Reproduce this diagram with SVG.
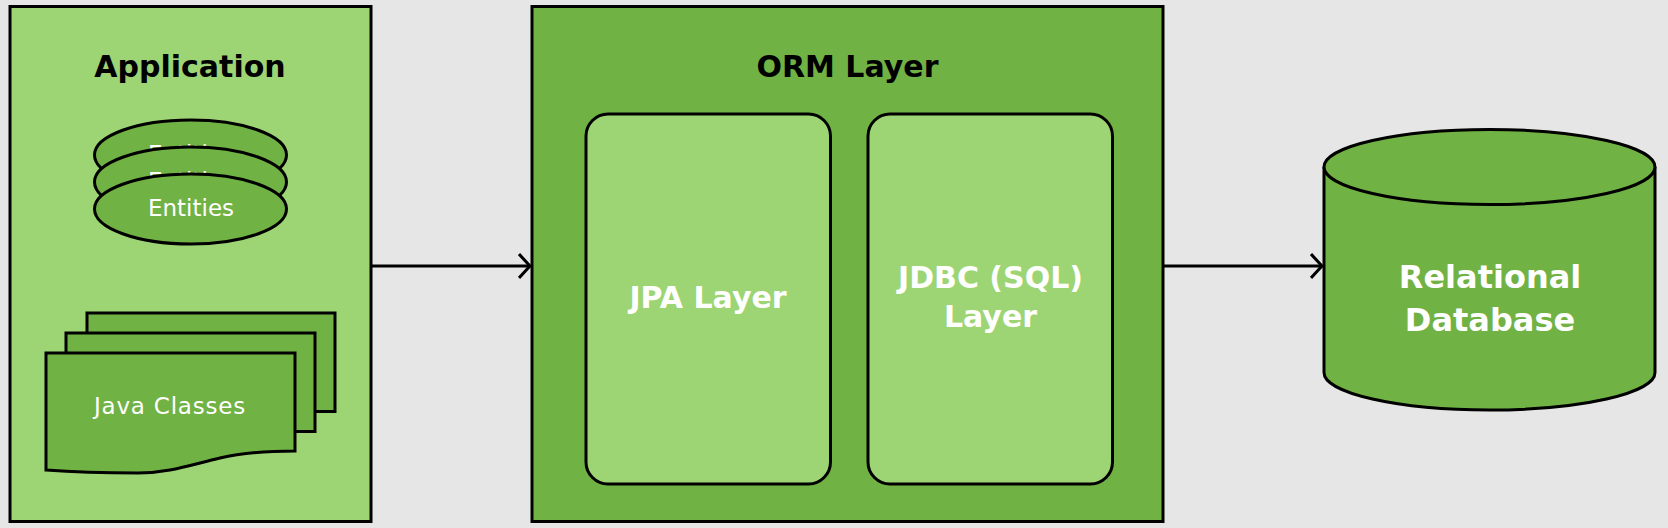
<svg xmlns="http://www.w3.org/2000/svg" width="1668" height="528" viewBox="0 0 1668 528">
<style>
.light{fill:#9dd574;stroke:#000;stroke-width:3}
.dark{fill:#71b244;stroke:#000;stroke-width:3}
.title{font-family:"DejaVu Sans",sans-serif;font-weight:bold;font-size:30px;fill:#000;text-anchor:middle}
.lbl{font-family:"DejaVu Sans",sans-serif;font-weight:bold;font-size:30px;fill:#fff;text-anchor:middle}
.big{font-family:"DejaVu Sans",sans-serif;font-weight:bold;font-size:32px;fill:#fff;text-anchor:middle}
.small{font-family:"DejaVu Sans",sans-serif;font-size:23px;fill:#fff;text-anchor:middle}
.conn{fill:none;stroke:#000;stroke-width:3}
</style>
<defs>
<marker id="arr" viewBox="0 0 14 26" refX="12" refY="13" markerWidth="14" markerHeight="26" markerUnits="userSpaceOnUse" orient="auto">
<path d="M1,1 L12,13 L1,25" fill="none" stroke="#000" stroke-width="3"/>
</marker>
</defs>
<rect width="1668" height="528" fill="#e6e6e6"/>
<g id="application">
<rect class="light" x="10" y="6.5" width="361" height="515"/>
<text class="title" x="190" y="77">Application</text>
</g>
<g id="entities">
<ellipse class="dark" cx="190.5" cy="155" rx="96" ry="35"/>
<text class="small" x="191" y="161.5">Entities</text>
<ellipse class="dark" cx="190.5" cy="182" rx="96" ry="35"/>
<text class="small" x="191" y="188.5">Entities</text>
<ellipse class="dark" cx="190.5" cy="209" rx="96" ry="35"/>
<text class="small" x="191" y="215.5">Entities</text>
</g>
<g id="java-classes">
<rect class="dark" x="87" y="313" width="248" height="98.5"/>
<rect class="dark" x="66" y="333" width="249" height="98.5"/>
<path class="dark" d="M46,353 H295 V451 C268,451 245,452 220,458 C190,465 168,473 138,473 C105,473 72,472 46,470 Z"/>
<text class="small" x="170" y="414" letter-spacing="0.8">Java Classes</text>
</g>
<g id="orm-layer">
<rect class="dark" x="532" y="6.5" width="631" height="515"/>
<text class="title" x="847.5" y="77">ORM Layer</text>
</g>
<g id="jpa-layer">
<rect class="light" x="586" y="114" width="244.5" height="370" rx="22" ry="22"/>
<text class="lbl" x="708" y="308">JPA Layer</text>
</g>
<g id="jdbc-layer">
<rect class="light" x="868" y="114" width="244.5" height="370" rx="22" ry="22"/>
<text class="lbl" x="990.5" y="288">JDBC (SQL)</text>
<text class="lbl" x="990.5" y="327">Layer</text>
</g>
<g id="database">
<path class="dark" d="M1324,167 V372.5 A165.5,37.5 0 0 0 1655,372.5 V167"/>
<ellipse class="dark" cx="1489.5" cy="167" rx="165.5" ry="37.5"/>
<text class="big" x="1490" y="288">Relational</text>
<text class="big" x="1490" y="331">Database</text>
</g>
<g id="connectors">
<path class="conn" d="M371,266 H530" marker-end="url(#arr)"/>
<path class="conn" d="M1163,266 H1322" marker-end="url(#arr)"/>
</g>
</svg>
